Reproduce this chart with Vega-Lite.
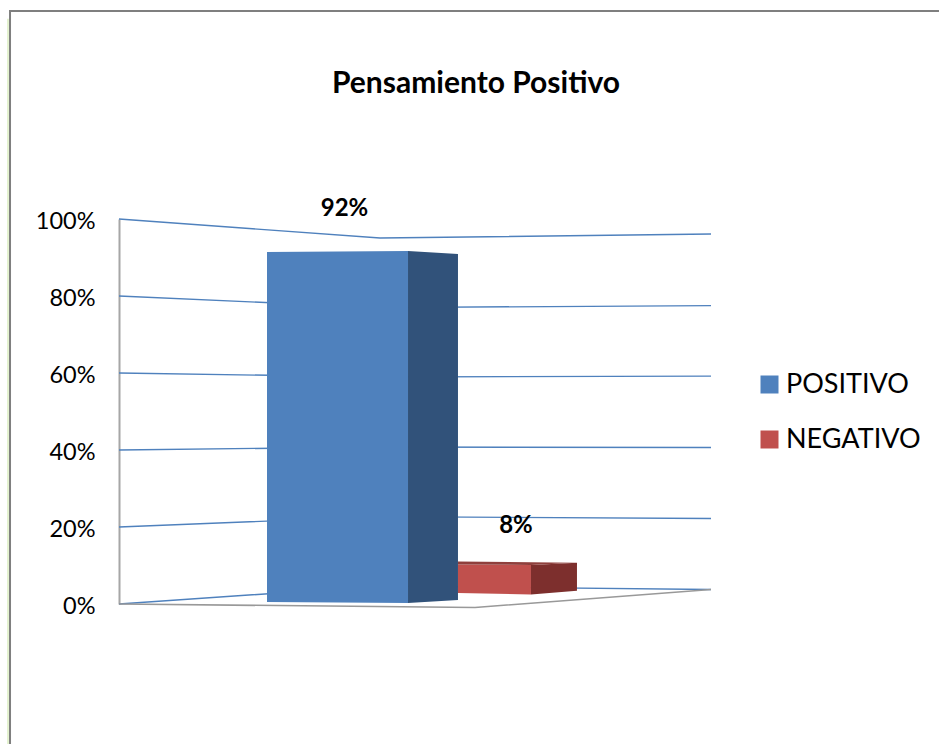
{
"$schema":"https://vega.github.io/schema/vega-lite/v6.json",
"width":592,"height":385,
"autosize":{"type":"none"},
"padding":{"left":119,"top":219,"right":228,"bottom":140},
"background":"white",
"config":{"view":{"stroke":null},"font":"Lato"},
"title":{"text":"Pensamiento Positivo","font":"Lato","fontSize":30,"fontWeight":"bold","color":"black","anchor":"middle","frame":"group","offset":-92,"dx":61},
"datasets":{
"grid":[
{"serie":"100%","o":1,"x":0,"y":100},{"serie":"100%","o":2,"x":44.09,"y":95.06},{"serie":"100%","o":3,"x":100,"y":96.1},
{"serie":"80%","o":1,"x":0,"y":80},{"serie":"80%","o":2,"x":44.09,"y":76.99},{"serie":"80%","o":3,"x":100,"y":77.5},
{"serie":"60%","o":1,"x":0,"y":60},{"serie":"60%","o":2,"x":44.09,"y":58.96},{"serie":"60%","o":3,"x":100,"y":59.2},
{"serie":"40%","o":1,"x":0,"y":40},{"serie":"40%","o":2,"x":44.09,"y":40.78},{"serie":"40%","o":3,"x":100,"y":40.65},
{"serie":"20%","o":1,"x":0,"y":20},{"serie":"20%","o":2,"x":44.09,"y":22.7},{"serie":"20%","o":3,"x":100,"y":22.2},
{"serie":"0%","o":1,"x":0,"y":0},{"serie":"0%","o":2,"x":44.09,"y":4.68},{"serie":"0%","o":3,"x":100,"y":3.77}
],
"piso":[{"o":1,"x":0,"y":0},{"o":2,"x":60.14,"y":-0.9},{"o":3,"x":100,"y":3.77}],
"marco":[{"o":1,"x":138.51,"y":154},{"o":2,"x":-18.41,"y":154},{"o":3,"x":-18.41,"y":-36.4}],
"brillo":[{"o":1,"x":-18.75,"y":152},{"o":2,"x":-18.75,"y":-36.4}],
"caras":[
{"serie":"NEGATIVO","cara":"frente","x":57.26,"y":10.26,"y2":2.86},
{"serie":"NEGATIVO","cara":"frente","x":69.59,"y":10.13,"y2":2.47},
{"serie":"POSITIVO","cara":"frente","x":25,"y":91.43,"y2":0.52},
{"serie":"POSITIVO","cara":"frente","x":48.82,"y":91.69,"y2":0.26},
{"serie":"NEGATIVO","cara":"lado","x":69.59,"y":10.13,"y2":2.47},
{"serie":"NEGATIVO","cara":"lado","x":77.36,"y":10.73,"y2":3.45},
{"serie":"POSITIVO","cara":"lado","x":48.82,"y":91.69,"y2":0.26},
{"serie":"POSITIVO","cara":"lado","x":57.26,"y":90.91,"y2":1.04},
{"serie":"NEGATIVO","cara":"tapa","x":57.26,"y":11.04,"y2":10.26},
{"serie":"NEGATIVO","cara":"tapa","x":69.59,"y":10.83,"y2":10.13},
{"serie":"NEGATIVO","cara":"tapa","x":77.36,"y":10.73,"y2":10.73}
],
"etiquetas":[{"serie":"POSITIVO","valor":"92%","x":38.09,"y":102.6},{"serie":"NEGATIVO","valor":"8%","x":67.06,"y":20.3}]
},
"encoding":{
"x":{"field":"x","type":"quantitative","axis":null,"scale":{"domain":[0,100],"nice":false,"zero":false}},
"y":{"field":"y","type":"quantitative","stack":null,"scale":{"domain":[0,100],"nice":false,"zero":false},
"axis":{"title":null,"values":[0,20,40,60,80,100],"labelExpr":"datum.value + '%'","grid":false,"ticks":false,"labelPadding":24,"labelOffset":2,"labelFont":"Lato","labelFontSize":23.5,"labelColor":"black","domainColor":"#a6a6a6","domainWidth":2}}
},
"layer":[
{"data":{"name":"brillo"},"mark":{"type":"line","color":"#e4f2d0","strokeWidth":2},"encoding":{"order":{"field":"o"}}},
{"data":{"name":"marco"},"mark":{"type":"line","color":"#7f7f7f","strokeWidth":2},"encoding":{"order":{"field":"o"}}},
{"data":{"name":"grid"},"mark":{"type":"line","color":"#4f81bd","strokeWidth":1.4},"encoding":{"detail":{"field":"serie"},"order":{"field":"o"}}},
{"data":{"name":"piso"},"mark":{"type":"line","color":"#999999","strokeWidth":1.6},"encoding":{"order":{"field":"o"}}},
{"data":{"name":"caras"},"transform":[{"filter":"datum.cara=='frente'"}],
 "mark":{"type":"area","orient":"vertical","interpolate":"linear"},
 "encoding":{"y2":{"field":"y2"},"color":{"field":"serie","type":"nominal","scale":{"domain":["POSITIVO","NEGATIVO"],"range":["#4f81bd","#c0504d"]},
  "legend":{"title":null,"orient":"none","legendX":637,"legendY":152,"padding":0,"symbolType":"square","symbolSize":324,"symbolStrokeWidth":0,"symbolOpacity":1,"labelFont":"Lato","labelFontSize":27,"labelColor":"black","labelOffset":3,"labelLimit":200,"rowPadding":27}}}},
{"data":{"name":"caras"},"transform":[{"filter":"datum.cara=='lado' && datum.serie=='POSITIVO'"}],"mark":{"type":"area","orient":"vertical","color":"#31527a"},"encoding":{"y2":{"field":"y2"}}},
{"data":{"name":"caras"},"transform":[{"filter":"datum.cara=='lado' && datum.serie=='NEGATIVO'"}],"mark":{"type":"area","orient":"vertical","color":"#7d2f2d"},"encoding":{"y2":{"field":"y2"}}},
{"data":{"name":"caras"},"transform":[{"filter":"datum.cara=='tapa'"}],"mark":{"type":"area","orient":"vertical","color":"#8f3f3c"},"encoding":{"y2":{"field":"y2"}}},
{"data":{"name":"etiquetas"},"mark":{"type":"text","font":"Lato","fontSize":24,"fontWeight":"bold","color":"black","baseline":"middle","align":"center"},"encoding":{"text":{"field":"valor"}}}
]
}
